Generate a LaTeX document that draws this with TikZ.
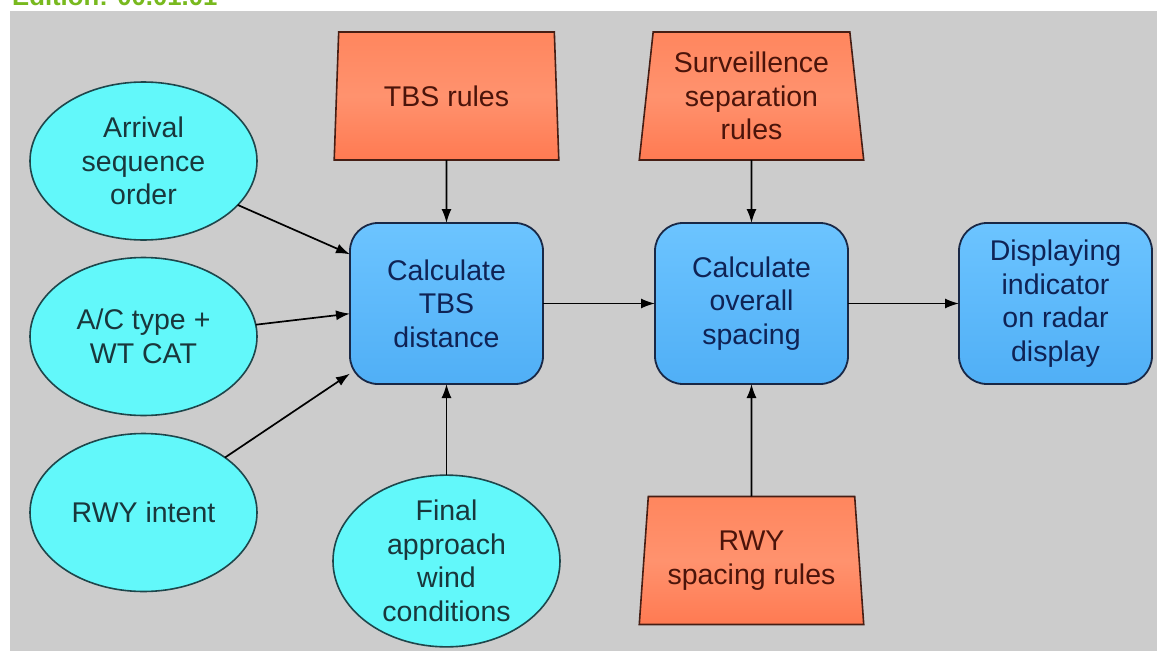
\documentclass[tikz,border=0pt]{standalone}
\usepackage{fontspec}
\setmainfont{Liberation Sans}
\usetikzlibrary{shapes.geometric,arrows.meta}
\definecolor{bggray}{RGB}{204,204,204}
\definecolor{cyanfill}{RGB}{98,248,250}
\definecolor{cyanline}{RGB}{30,70,75}
\definecolor{cyantext}{RGB}{25,55,60}
\definecolor{boxtop}{RGB}{108,196,255}
\definecolor{boxbot}{RGB}{80,175,246}
\definecolor{boxline}{RGB}{25,40,70}
\definecolor{boxtext}{RGB}{15,35,85}
\definecolor{traptop}{RGB}{255,134,94}
\definecolor{trapbot}{RGB}{255,122,82}
\definecolor{trapline}{RGB}{70,30,20}
\definecolor{traptext}{RGB}{75,20,10}
\definecolor{edgreen}{RGB}{120,185,30}
\tikzset{
  txt/.style={font=\fontsize{28.5}{33.5}\selectfont, align=center, inner sep=0pt, outer sep=0pt},
  procbox/.style={txt, rectangle, rounded corners=28pt, minimum width=193pt, minimum height=161pt,
    draw=boxline, line width=1.8pt, top color=boxtop, bottom color=boxbot, text=boxtext},
  inputell/.style={txt, ellipse, minimum width=227pt, minimum height=158pt,
    draw=cyanline, line width=1.6pt, fill=cyanfill, text=cyantext},
  rulestrap/.style={txt, trapezium, trapezium stretches=true, trapezium angle=82.9,
    minimum width=225pt, minimum height=128pt, draw=trapline, line width=1.6pt,
    top color=traptop, bottom color=trapbot, middle color=traptop!90!white, text=traptext},
  conn/.style={line width=1.7pt, draw=black, -{Latex[length=14pt,width=10pt]}}
}
\begin{document}
\begin{tikzpicture}[x=1pt,y=-1pt]
\clip (0,0) rectangle (1157,651);
\fill[white] (0,0) rectangle (1157,651);
\fill[bggray] (10,11) rectangle (1157,651);
\node[anchor=base west, inner sep=0pt, text=edgreen, font=\fontsize{25.7}{30}\selectfont\bfseries] (ed) at (12,5) {Edition: 00.01.01};

% rule trapezoids
\node[rulestrap] (tbsr) at (446.5,96) {TBS rules};
\node[rulestrap] (ssr) at (751.5,96) {Surveillence\\separation\\rules};
\node[rulestrap] (rsr) at (751.5,560.5) {RWY\\spacing rules};

% process boxes
\node[procbox] (tbs) at (446.5,303.5) {Calculate\\TBS\\distance};
\node[procbox] (ovr) at (751.5,303.5) {Calculate\\overall\\spacing};
\node[procbox] (disp) at (1055.5,303.5) {Displaying\\indicator\\on radar\\display};

% input ellipses
\node[inputell] (arr) at (143.5,161) {Arrival\\sequence\\order};
\node[inputell] (act) at (143.5,336.5) {A/C type +\\WT CAT};
\node[inputell] (rwy) at (143.5,512.5) {RWY intent};
\node[inputell, minimum height=162pt] (fin) at (446.5,561) {Final\\approach\\wind\\conditions};

% connectors
\draw[conn] (arr.-25.6) -- (tbs.153.8);
\draw[conn] (act.6.8) -- (tbs.186.8);
\draw[conn] (rwy.34.2) -- (tbs.216.2);
\draw[conn] (tbsr.south) -- (tbs.north);
\draw[conn] (fin.north) -- (tbs.south);
\draw[conn] (tbs.east) -- (ovr.west);
\draw[conn] (ssr.south) -- (ovr.north);
\draw[conn] (rsr.north) -- (ovr.south);
\draw[conn] (ovr.east) -- (disp.west);
\end{tikzpicture}
\end{document}
